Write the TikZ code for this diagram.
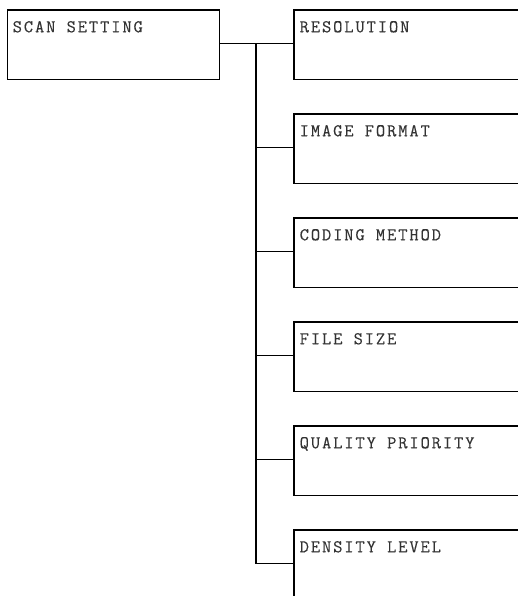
\documentclass[tikz,border=0pt]{standalone}
\usepackage{fontspec}
\newfontfamily\boxfont[LetterSpace=10.5,FakeBold=0.25]{Latin Modern Mono}
\begin{document}
\begin{tikzpicture}[x=1pt,y=-1pt,
  menubox/.style={draw,line width=1.3pt,rectangle,minimum height=69.4pt,inner sep=0pt,anchor=north west},
  menutext/.style={anchor=base west,inner sep=0pt,font=\boxfont\fontsize{18}{19}\selectfont,text=black!80},
  link/.style={line width=1.3pt}]
\useasboundingbox (0,0) rectangle (518,596);
\clip (0,0) rectangle (518,596);
\node[menubox,minimum width=211.7pt] (scan) at (7,9.3) {};
\node[menutext] (scant) at (12.5,32.3) {SCAN SETTING};
\foreach \i/\t in {1/RESOLUTION,2/IMAGE FORMAT,3/CODING METHOD,4/FILE SIZE,5/QUALITY PRIORITY,6/DENSITY LEVEL}{
  \node[menubox,minimum width=250pt] (b\i) at (293.3,{9.3+104*(\i-1)}) {};
  \node[menutext] (t\i) at (299.5,{32.3+104*(\i-1)}) {\t};
  \coordinate (j\i) at (256,{43.5+104*(\i-1)});
  \draw[link] (j\i) -- (j\i -| b\i.west);
}
\draw[link] (j1 -| scan.east) -- (j1);
\draw[link] (j1) -- (j6);
\end{tikzpicture}
\end{document}
